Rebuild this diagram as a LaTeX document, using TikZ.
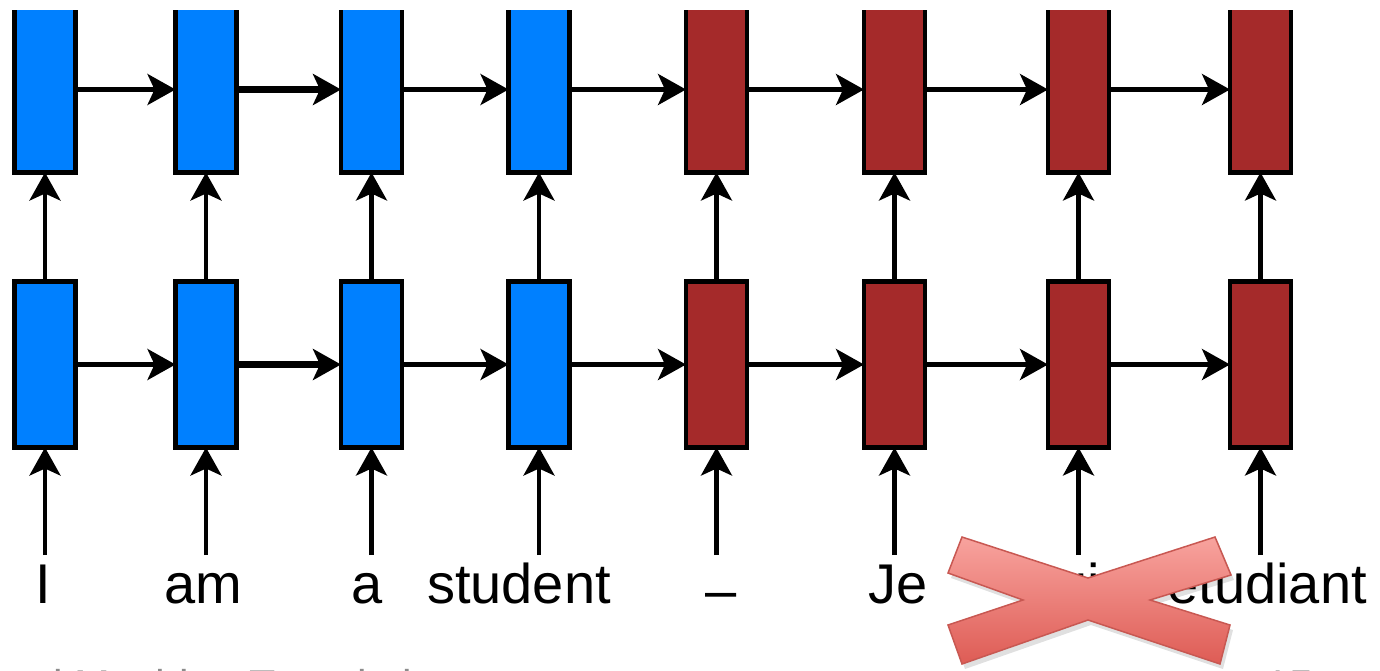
\documentclass[tikz,border=0pt]{standalone}
\usepackage{fontspec}
\setmainfont{Liberation Sans}
\usetikzlibrary{arrows.meta}
\definecolor{encblue}{RGB}{0,128,255}
\definecolor{decred}{RGB}{165,42,42}
\definecolor{xtop}{RGB}{248,163,158}
\definecolor{xbot}{RGB}{222,92,85}
\definecolor{xedge}{RGB}{200,88,82}
\definecolor{footgray}{RGB}{140,140,140}
\tikzset{
  cell/.style={draw=black, line width=4.8pt, minimum width=61pt, minimum height=166pt, inner sep=0pt, outer sep=0pt},
  enc/.style={cell, fill=encblue},
  dec/.style={cell, fill=decred},
  conn/.style={line width=4.3pt, -{Stealth[length=28pt, width=31pt, inset=7pt]}},
  thickconn/.style={line width=6.5pt, -{Stealth[length=28pt, width=31pt, inset=7pt]}},
  word/.style={anchor=base, inner sep=0pt, font=\fontsize{56}{60}\selectfont},
  foot/.style={anchor=base west, inner sep=0pt, text=footgray, font=\fontsize{43}{48}\selectfont}
}
\begin{document}
\begin{tikzpicture}[x=1pt,y=-1pt]
\useasboundingbox (0,0) rectangle (1380,670);
\begin{scope}
\clip (0,10) rectangle (1380,670);
% cells
\foreach \n/\x/\s in {1/45/enc,2/206/enc,3/371.5/enc,4/539/enc,5/716.5/dec,6/894.5/dec,7/1078.5/dec,8/1260.5/dec}{
  \node[\s] (t\n) at (\x,89.5) {};
  \node[\s] (b\n) at (\x,364.5) {};
  \coordinate (in\n) at (\x,555);
}
% horizontal connectors
\foreach \a/\b in {1/2,3/4,4/5,5/6,6/7,7/8}{
  \draw[conn] (t\a.east) -- (t\b.west);
  \draw[conn] (b\a.east) -- (b\b.west);
}
\draw[thickconn] (t2.east) -- (t3.west);
\draw[thickconn] (b2.east) -- (b3.west);
% vertical connectors
\foreach \n in {1,...,8}{
  \draw[conn] (b\n.north) -- (t\n.south);
  \draw[conn] (in\n) -- (b\n.south);
}
% words
\node[word] (w1) at (43,603) {I};
\node[word] (w2) at (203,603) {am};
\node[word] (w3) at (367,603) {a};
\node[word] (w4) at (519,603) {student};
\node[word] (w5) at (721,609) {–};
\node[word] (w6) at (898,603) {Je};
\node[word] (w7) at (1078,603) {suis};
\node[word, anchor=base east] (w8) at (1367,603) {étudiant};
% footer (cut off by the frame)
\node[foot] (f1) at (-64,700) {Neural Machine Translation};
\node[foot] (f2) at (1265,700) {15};
% cross
\fill[black, opacity=0.12] ([shift={(3,5)}]962,537) -- ([shift={(3,5)}]1088,578) -- ([shift={(3,5)}]1215,537) -- ([shift={(3,5)}]1231,575) -- ([shift={(3,5)}]1150,600) -- ([shift={(3,5)}]1230,625) -- ([shift={(3,5)}]1220,664) -- ([shift={(3,5)}]1088,620) -- ([shift={(3,5)}]962,664) -- ([shift={(3,5)}]948,625) -- ([shift={(3,5)}]1023,600) -- ([shift={(3,5)}]948,573) -- cycle;
\draw[line width=1.5pt, draw=xedge, top color=xtop, bottom color=xbot, line join=miter]
  (962,537) -- (1088,578) -- (1215,537) -- (1231,575) -- (1150,600) -- (1230,625) -- (1220,664) -- (1088,620) -- (962,664) -- (948,625) -- (1023,600) -- (948,573) -- cycle;
\end{scope}
\end{tikzpicture}
\end{document}
